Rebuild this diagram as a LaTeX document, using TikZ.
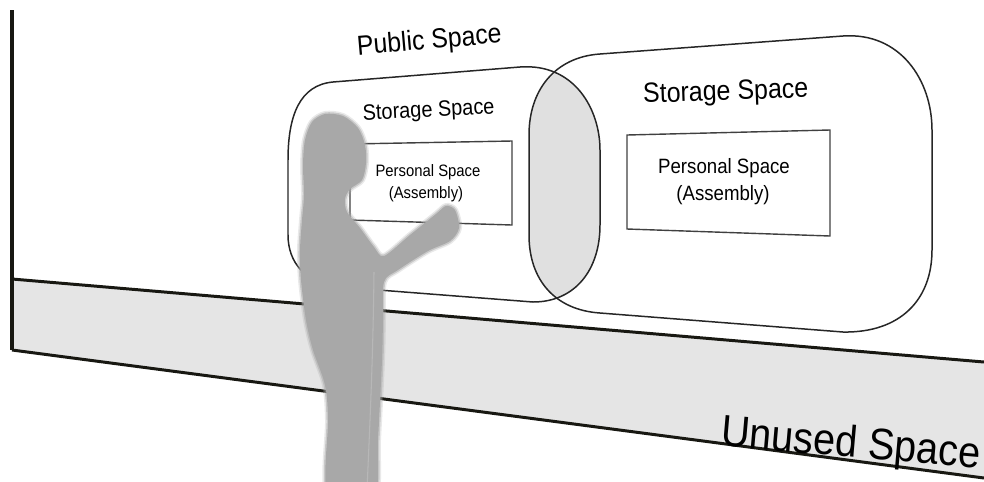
\documentclass[tikz,border=0pt]{standalone}
\usepackage{fontspec}
\setmainfont{Liberation Sans}[FakeStretch=0.9]

\definecolor{floorgray}{RGB}{229,229,229}
\definecolor{lensgray}{RGB}{224,224,224}
\definecolor{persongray}{RGB}{168,168,168}
\definecolor{wallink}{RGB}{24,24,18}

% outlines of the two overlapping storage capsules
\newcommand{\pubcapsule}{(333,82) -- (520,67) .. controls (575,63) and (600,110) .. (600,150)
  -- (600,225) .. controls (600,270) and (575,302) .. (533,302)
  -- (340,287) .. controls (305,284) and (288,262) .. (288,235)
  -- (288,160) .. controls (288,115) and (300,85) .. (333,82) -- cycle}
\newcommand{\storcapsule}{(600,54) -- (843,36) .. controls (900,32) and (932,80) .. (932,130)
  -- (932,250) .. controls (932,300) and (900,333) .. (843,332)
  -- (600,313) .. controls (555,310) and (529,280) .. (529,235)
  -- (529,135) .. controls (529,90) and (555,57) .. (600,54) -- cycle}

\begin{document}
\begin{tikzpicture}[x=0.02cm,y=-0.02cm,
  capsule/.style={line width=0.85pt, black!85},
  boxline/.style={line width=0.8pt, black!75},
  lbl/.style={inner sep=0pt, anchor=base}]
\useasboundingbox (0,0) rectangle (984,481);

% floor strip and wall edge
\fill[floorgray] (12,279) -- (984,362) -- (984,478) -- (12,350) -- cycle;
\draw[line width=1.7pt, wallink] (12,279) -- (984,362);
\draw[line width=1.7pt, wallink] (12,350) -- (984,478);
\draw[line width=2.3pt, wallink] (12,10) -- (12,350);

% overlap of the two capsules
\begin{scope}
\clip \pubcapsule;
\fill[lensgray] \storcapsule;
\end{scope}
\draw[capsule] \pubcapsule;
\draw[capsule] \storcapsule;

% personal spaces
\draw[boxline] (350,144) -- (512,141) -- (512,225) -- (350,220) -- cycle;
\draw[boxline] (627,135) -- (830,130) -- (830,236) -- (627,229) -- cycle;

\node[lbl, rotate=5, font=\fontsize{15.7}{18}\selectfont] (pub) at (430,49) {Public Space};
\node[lbl, rotate=3, font=\fontsize{12.6}{15}\selectfont] (storL) at (429,117) {Storage Space};
\node[lbl, rotate=2, font=\fontsize{15.8}{18}\selectfont] (storR) at (726,100) {Storage Space};
\node[lbl, font=\fontsize{9.4}{11}\selectfont] (persL) at (428,176) {Personal Space};
\node[lbl, font=\fontsize{9.4}{11}\selectfont] (asmL) at (426,198) {(Assembly)};
\node[lbl, font=\fontsize{11.8}{14}\selectfont] (persR) at (724,173) {Personal Space};
\node[lbl, font=\fontsize{11.8}{14}\selectfont] (asmR) at (723,200) {(Assembly)};
\node[lbl, rotate=-5, font=\fontsize{25.1}{30}\selectfont] (unused) at (850,457) {Unused Space};

% standing user, soft edged
\def\person{plot[smooth cycle, tension=0.5] coordinates {
  (328,495) (328,420) (325,385) (313,350) (306,320) (301,280) (300,250)
  (302,220) (304,195) (303,165) (305,140) (312,122) (325,114) (343,116)
  (358,128) (365,145) (366,163) (362,180) (350,189) (345,199) (347,212)
  (360,228) (374,247) (384,256) (410,235) (436,214) (446,206) (455,210)
  (459,228) (450,241) (428,251) (398,270) (384,282) (383,320) (382,360)
  (378,440) (374,495)}}
\draw[persongray, line width=3.4pt, opacity=0.25] \person;
\draw[persongray, line width=1.7pt, opacity=0.5] \person;
\fill[persongray] \person;
\draw[white, opacity=0.18, line width=0.6pt] (374,272) .. controls (373,360) and (370,420) .. (367,490);
\end{tikzpicture}
\end{document}
